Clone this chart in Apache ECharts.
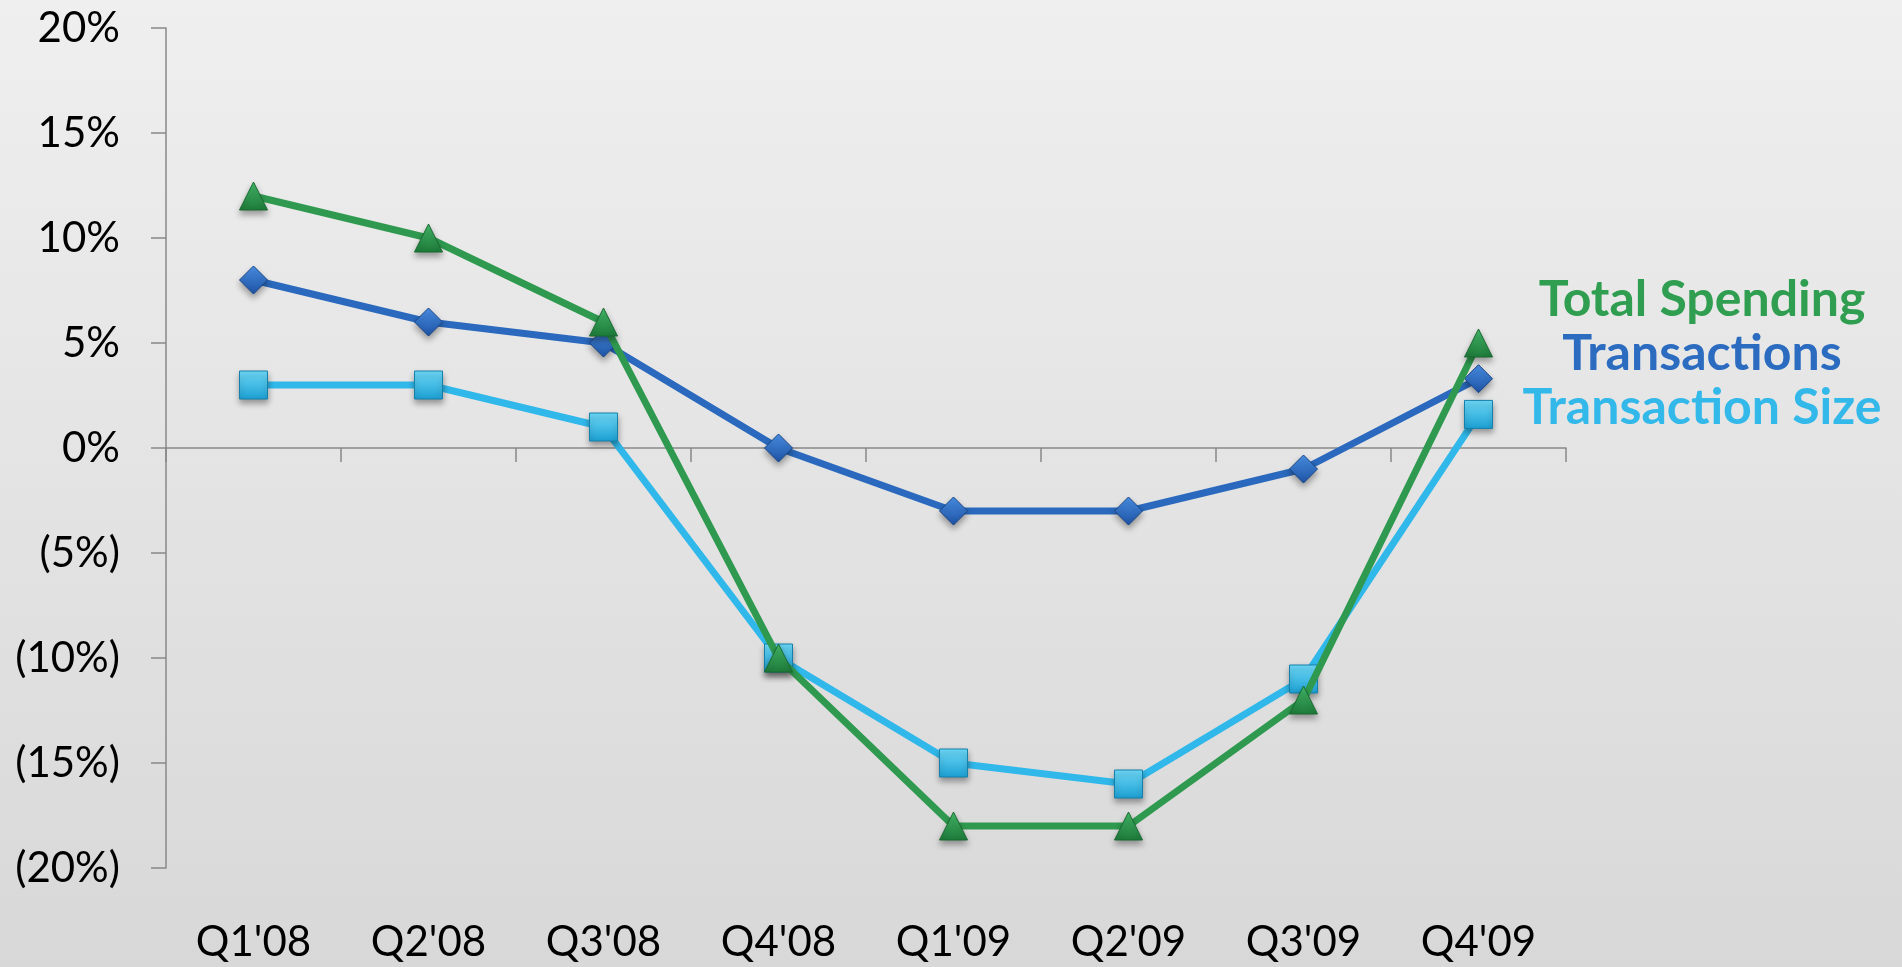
<!DOCTYPE html>
<html>
<head>
<meta charset="utf-8">
<style>
  html, body { margin: 0; padding: 0; width: 100%; height: 100%; overflow: hidden; }
  #chart { width: 1902px; height: 967px; }
</style>
<script src="https://cdn.jsdelivr.net/npm/echarts@6/dist/echarts.min.js"></script>
</head>
<body>
<div id="chart"></div>
<script>
// Quarterly year-over-year growth, percent
const quarters = ["Q1'08", "Q2'08", "Q3'08", "Q4'08", "Q1'09", "Q2'09", "Q3'09", "Q4'09"];
const totalSpending = [12, 10, 6, -10, -18, -18, -12, 5];
const transactions = [8, 6, 5, 0, -3, -3, -1, 3.3];
const transactionSize = [3, 3, 1, -10, -15, -16, -11, 1.6];
const seriesNames = ['Total Spending', 'Transactions', 'Transaction Size'];
const yTicks = [-20, -15, -10, -5, 0, 5, 10, 15, 20];

const FONT = 'Lato, "Open Sans", sans-serif';

function grad(top, bottom) {
  return new echarts.graphic.LinearGradient(0, 0, 0, 1, [
    { offset: 0, color: top },
    { offset: 1, color: bottom }
  ]);
}

function pct(v) {
  if (v < 0) return '(' + Math.abs(v) + '%)';
  return v + '%';
}

const styles = {
  'Total Spending':   { line: '#2f9a4f', text: '#2f9e50', symbol: 'triangle', top: '#45bb6a', bottom: '#1d7a39', border: '#196a31' },
  'Transactions':     { line: '#2a69bd', text: '#2b6cc0', symbol: 'diamond',  top: '#4a90e6', bottom: '#1d52a3', border: '#184688' },
  'Transaction Size': { line: '#30b8ea', text: '#33b8ea', symbol: 'rect',     top: '#6fd9f8', bottom: '#1b9fd2', border: '#1580aa' }
};
const values = {
  'Total Spending': totalSpending,
  'Transactions': transactions,
  'Transaction Size': transactionSize
};

function makeSeries(name, z) {
  const s = styles[name];
  return {
    name: name,
    type: 'line',
    data: values[name],
    z: z,
    symbol: s.symbol,
    symbolSize: 28,
    lineStyle: { color: s.line, width: 7 },
    itemStyle: {
      color: grad(s.top, s.bottom),
      borderColor: s.border,
      borderWidth: 1,
      shadowBlur: 6,
      shadowOffsetY: 4,
      shadowColor: 'rgba(0,0,0,0.35)'
    },
    emphasis: { disabled: true }
  };
}

// Series key, drawn as centred coloured text to the right of the plot
const legendX = 1702;
const legendY = [300, 354, 408];

const chart = echarts.init(document.getElementById('chart'));
chart.setOption({
  animation: false,
  backgroundColor: grad('#efefef', '#d8d8d8'),
  grid: { left: 166, right: 336, top: 28, bottom: 99, containLabel: false },
  xAxis: [
    {
      type: 'category',
      data: quarters,
      position: 'bottom',
      axisLine: { show: false, onZero: false },
      axisTick: { show: false },
      axisLabel: { color: '#000', fontFamily: FONT, fontSize: 42, margin: 53 }
    },
    {
      type: 'category',
      data: quarters,
      position: 'bottom',
      axisLine: { show: true, onZero: true, lineStyle: { color: '#888', width: 1.5 } },
      axisTick: { show: true, length: 14, lineStyle: { color: '#888', width: 1.5 } },
      axisLabel: { show: false }
    }
  ],
  yAxis: {
    type: 'value',
    min: yTicks[0],
    max: yTicks[yTicks.length - 1],
    interval: 5,
    splitLine: { show: false },
    axisLine: { show: true, lineStyle: { color: '#888', width: 1.5 } },
    axisTick: { show: true, length: 15, lineStyle: { color: '#888', width: 1.5 } },
    axisLabel: { color: '#000', fontFamily: FONT, fontSize: 42, margin: 46, formatter: pct }
  },
  series: [
    makeSeries('Transaction Size', 2),
    makeSeries('Transactions', 3),
    makeSeries('Total Spending', 4)
  ],
  graphic: seriesNames.map((name, i) => ({
    type: 'text',
    x: legendX,
    y: legendY[i],
    style: {
      text: name,
      fill: styles[name].text,
      font: 'bold 50px ' + FONT,
      textAlign: 'center',
      textVerticalAlign: 'middle'
    }
  }))
});
</script>
</body>
</html>
